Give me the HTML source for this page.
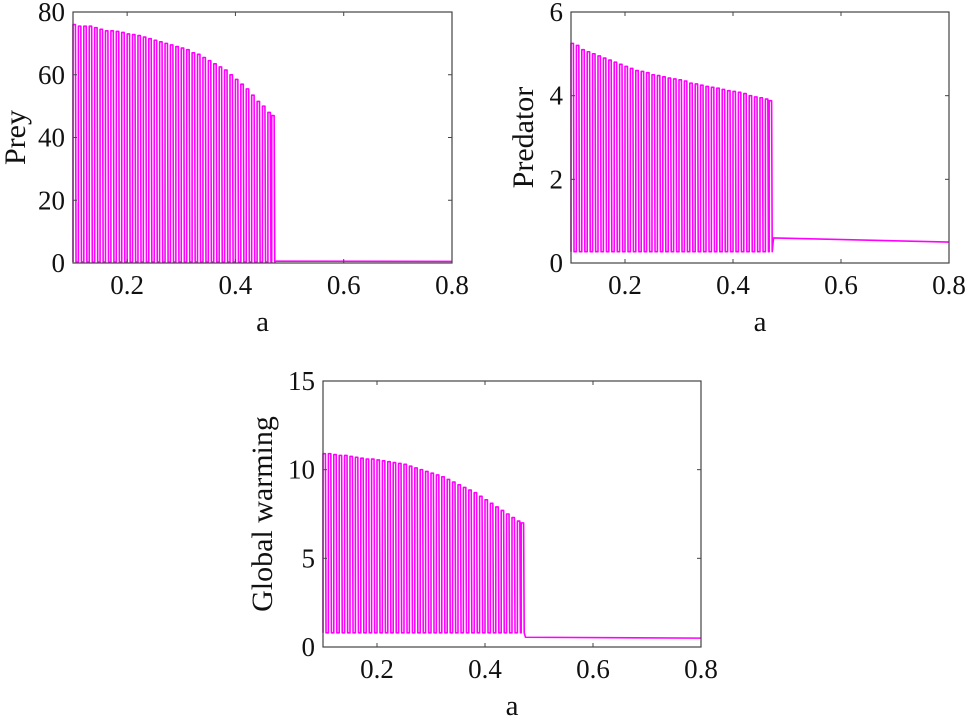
<!DOCTYPE html>
<html><head><meta charset="utf-8"><style>
body{margin:0;background:#fff}
svg{display:block}
</style></head><body>
<svg id="fig" width="968" height="725" xmlns="http://www.w3.org/2000/svg" font-family="'Liberation Serif', serif"></svg>
<script>
const aSpikes=[0.10,0.11,0.12,0.13,0.14,0.15,0.16,0.17,0.18,0.19,0.20,0.21,0.22,0.23,0.24,0.25,0.26,0.27,0.28,0.29,0.30,0.31,0.32,0.33,0.34,0.35,0.36,0.37,0.38,0.39,0.40,0.41,0.42,0.43,0.44,0.45,0.46,0.467];
const preyPeaks=[76,75.5,75.5,75.5,75,74.5,74,74,73.8,73.5,73,72.8,72.5,72,71.5,71,70.5,70,69.5,69,68.5,68,67,66.5,65.5,64.5,63.5,62.5,61.5,60,58.5,57,55.5,53.5,51.5,50,48,47];
const preyLow=[0.3];
const preyTailA=[0.475,0.8];
const preyTail=[0.6,0.5];
const predPeaks=[5.25,5.2,5.1,5.05,5.0,4.95,4.9,4.85,4.8,4.75,4.7,4.65,4.6,4.58,4.55,4.5,4.48,4.45,4.42,4.4,4.38,4.35,4.3,4.28,4.25,4.22,4.2,4.18,4.15,4.12,4.1,4.08,4.05,4.0,3.97,3.95,3.92,3.88];
const predLow=[0.27];
const predTailA=[0.475,0.8];
const predTail=[0.6,0.5];
const gwPeaks=[10.9,10.9,10.85,10.8,10.8,10.75,10.7,10.65,10.6,10.6,10.55,10.5,10.45,10.4,10.35,10.3,10.2,10.1,10.0,9.9,9.8,9.7,9.6,9.45,9.3,9.15,9.0,8.85,8.7,8.5,8.3,8.1,7.9,7.7,7.5,7.3,7.1,7.0];
const gwLow=[0.8];
const gwTailA=[0.475,0.8];
const gwTail=[0.55,0.5];
const xTicks=[0.2,0.4,0.6,0.8];
const xTickLabels=["0.2","0.4","0.6","0.8"];
const preyYTicks=[0,20,40,60,80];
const predYTicks=[0,2,4,6];
const gwYTicks=[0,5,10,15];

const NS="http://www.w3.org/2000/svg";
const FONT="'Liberation Serif', serif";
const svg=document.getElementById('fig');
function mk(tag,attrs,parent){const e=document.createElementNS(NS,tag);for(const k in attrs)e.setAttribute(k,attrs[k]);(parent||svg).appendChild(e);return e;}

function panel(name,L,R,T,B,ymax,yTicks,peaks,low,tailA,tail,ylabel,ylabX,xtitleOff){
  const g=mk('g',{});
  
  
  const xs=a=>L+(a-0.1)/0.7*(R-L);
  const ys=v=>B-v/ymax*(B-T);
  let d='M'+xs(aSpikes[0])+','+ys(low[0]);
  const w=0.0045;
  for(let i=0;i<aSpikes.length;i++){
    const x0=xs(aSpikes[i]),x1=xs(aSpikes[i]+w);
    d+=' L'+x0+','+ys(peaks[i])+' L'+x1+','+ys(peaks[i])+' L'+(x1+0.6)+','+ys(low[0]);
    if(i<aSpikes.length-1) d+=' L'+xs(aSpikes[i+1])+','+ys(low[0]);
  }
  d+=' L'+xs(tailA[0])+','+ys(tail[0])+' L'+xs(tailA[1])+','+ys(tail[1]);
  const p=mk('path',{d:d,fill:'none',stroke:'#ff00ff','stroke-width':1.6,'stroke-linejoin':'round'},g);
  
  
  const box=mk('rect',{x:L,y:T,width:R-L,height:B-T,fill:'none',stroke:'#444','stroke-width':1.2},g);
  
  
  xTicks.forEach((t,i)=>{
    const x=xs(t);
    mk('line',{x1:x,y1:B,x2:x,y2:B-4,stroke:'#444'},g);
    mk('line',{x1:x,y1:T,x2:x,y2:T+4,stroke:'#444'},g);
    const tx=mk('text',{x:x,y:B+31,'font-size':27,'text-anchor':'middle','font-family':FONT,fill:'#111'},g);
    tx.textContent=xTickLabels[i];
    
    
  });
  yTicks.forEach(t=>{
    const y=ys(t);
    mk('line',{x1:L,y1:y,x2:L+4,y2:y,stroke:'#444'},g);
    mk('line',{x1:R,y1:y,x2:R-4,y2:y,stroke:'#444'},g);
    const ty=mk('text',{x:L-8,y:y+9,'font-size':27,'text-anchor':'end','font-family':FONT,fill:'#111'},g);
    ty.textContent=String(t);
    
    
  });
  const xl=mk('text',{x:(L+R)/2,y:B+xtitleOff,'font-size':29,'text-anchor':'middle','font-family':FONT,fill:'#111'},g);
  xl.textContent='a';
  
  
  const cy=(T+B)/2;
  const yl=mk('text',{x:ylabX,y:cy,'font-size':30,'text-anchor':'middle','font-family':FONT,fill:'#111',transform:'rotate(-90 '+ylabX+' '+cy+')'},g);
  yl.textContent=ylabel;
  
  
}
panel('prey',73,452,12,263,80,preyYTicks,preyPeaks,preyLow,preyTailA,preyTail,'Prey',25,68);
panel('predator',571,949,12,263,6,predYTicks,predPeaks,predLow,predTailA,predTail,'Predator',533,68);
panel('global-warming',323,701,381,647,15,gwYTicks,gwPeaks,gwLow,gwTailA,gwTail,'Global warming',272,68);
</script>
</body></html>
